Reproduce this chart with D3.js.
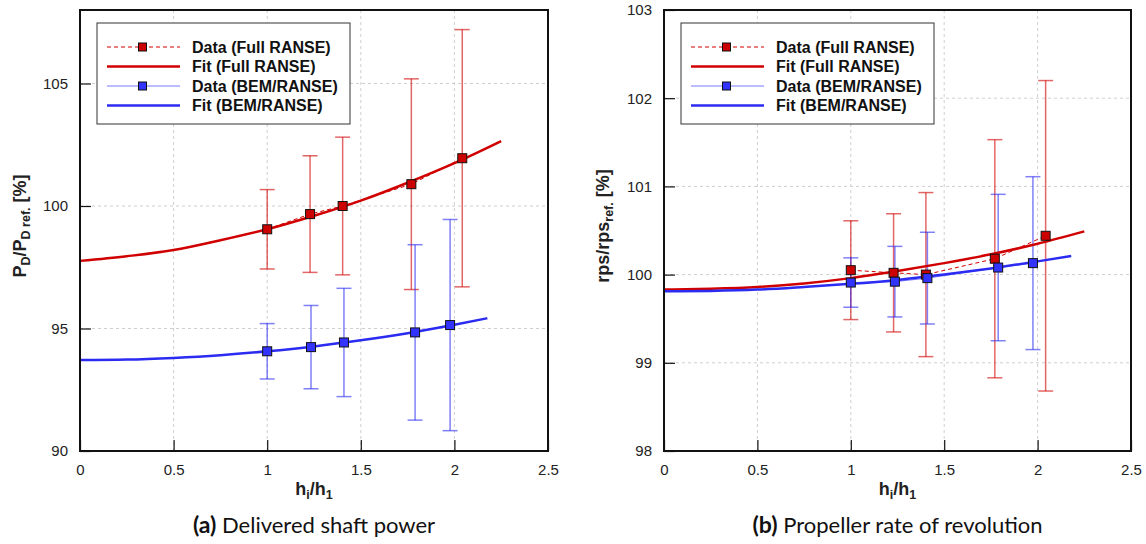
<!DOCTYPE html>
<html>
<head>
<meta charset="utf-8">
<script src="https://cdn.jsdelivr.net/npm/d3@7"></script>
<style>
  body { margin: 0; background: #fff; }
  svg { font-family: "Liberation Sans", Arial, sans-serif; }
</style>
</head>
<body>
<script>
  // (a) delivered shaft power, P_D / P_D ref. [%]
  const powerFullX   = [1.0, 1.229, 1.403, 1.770, 2.042];
  const powerFullY   = [99.05, 99.67, 100.0, 100.89, 101.95];
  const powerFullErr = [1.62, 2.38, 2.81, 4.30, 5.25];
  const powerBemX    = [1.0, 1.234, 1.410, 1.790, 1.977];
  const powerBemY    = [94.07, 94.24, 94.43, 94.84, 95.14];
  const powerBemErr  = [1.13, 1.70, 2.21, 3.58, 4.31];
  const powerFitFullX = [0, 0.25, 0.5, 0.75, 1.0, 1.25, 1.5, 1.75, 2.0, 2.25];
  const powerFitFullY = [97.76, 97.95, 98.2, 98.6, 99.05, 99.6, 100.22, 100.95, 101.75, 102.65];
  const powerFitBemX  = [0, 0.25, 0.5, 0.75, 1.0, 1.25, 1.5, 1.75, 2.0, 2.176];
  const powerFitBemY  = [93.71, 93.73, 93.8, 93.91, 94.07, 94.27, 94.52, 94.81, 95.15, 95.42];

  // (b) propeller rate of revolution, rps / rps ref. [%]
  const rpsFullX   = [1.0, 1.229, 1.402, 1.771, 2.043];
  const rpsFullY   = [100.05, 100.02, 100.0, 100.18, 100.44];
  const rpsFullErr = [0.56, 0.67, 0.93, 1.35, 1.76];
  const rpsBemX    = [1.0, 1.236, 1.410, 1.789, 1.975];
  const rpsBemY    = [99.91, 99.92, 99.96, 100.08, 100.13];
  const rpsBemErr  = [0.28, 0.40, 0.52, 0.83, 0.98];
  const rpsFitFullX = [0, 0.25, 0.5, 0.75, 1.0, 1.25, 1.5, 1.75, 2.0, 2.25];
  const rpsFitFullY = [99.83, 99.84, 99.86, 99.9, 99.96, 100.04, 100.13, 100.23, 100.35, 100.49];
  const rpsFitBemX  = [0, 0.25, 0.5, 0.75, 1.0, 1.25, 1.5, 1.75, 2.0, 2.18];
  const rpsFitBemY  = [99.81, 99.815, 99.83, 99.86, 99.895, 99.94, 100.0, 100.07, 100.15, 100.21];

  const xMajor = [0, 0.5, 1, 1.5, 2, 2.5];
  const xMinor = d3.range(0, 2.51, 0.1);
  const powerMajor = [90, 95, 100, 105];
  const powerMinor = d3.range(90, 108.1, 1);
  const rpsMajor = [98, 99, 100, 101, 102, 103];
  const rpsMinor = d3.range(98, 103.01, 0.2);

  const legendLabels = ["Data (Full RANSE)", "Fit (Full RANSE)", "Data (BEM/RANSE)", "Fit (BEM/RANSE)"];

  const red = "#d10000";
  const blue = "#2b2bf2";
  const sansFont = "'Liberation Sans', Arial, sans-serif";

  const w = 1146;
  const h = 544;
  const plotTop = 10;
  const plotBottom = 451;

  const svg = d3.select("body")
                .append("svg")
                .attr("width", w)
                .attr("height", h)
                .style("font-family", sansFont);

  const pts = (xs, ys, es) => xs.map((v, i) => ({x: v, y: ys[i], e: es ? es[i] : 0}));

  function drawPanel(p) {
    const g = svg.append("g");
    const xScale = d3.scaleLinear().domain([0, 2.5]).range([p.left, p.right]);
    const yScale = d3.scaleLinear().domain(p.yDomain).range([plotBottom, plotTop]);

    // dashed grid on the major ticks
    g.selectAll(".gx")
     .data(xMajor.slice(1, -1))
     .enter()
     .append("line")
     .attr("x1", (d) => xScale(d)).attr("x2", (d) => xScale(d))
     .attr("y1", plotTop).attr("y2", plotBottom)
     .attr("stroke", "#cfcfcf").attr("stroke-dasharray", "3,3");
    g.selectAll(".gy")
     .data(p.yMajor.filter((d) => d > p.yDomain[0] && d < p.yDomain[1]))
     .enter()
     .append("line")
     .attr("x1", p.left).attr("x2", p.right)
     .attr("y1", (d) => yScale(d)).attr("y2", (d) => yScale(d))
     .attr("stroke", "#cfcfcf").attr("stroke-dasharray", "3,3");

    // axes, ticks pointing inward
    const ax = g.append("g").attr("transform", "translate(0," + plotBottom + ")");
    ax.call(d3.axisBottom(xScale).tickValues(xMinor).tickSize(-6).tickFormat(""));
    ax.call(d3.axisBottom(xScale).tickValues(xMajor).tickSize(-11).tickPadding(13).tickFormat(d3.format("")));
    const ay = g.append("g").attr("transform", "translate(" + p.left + ",0)");
    ay.call(d3.axisLeft(yScale).tickValues(p.yMinor).tickSize(-6).tickFormat(""));
    ay.call(d3.axisLeft(yScale).tickValues(p.yMajor).tickSize(-11).tickPadding(12).tickFormat(d3.format("")));
    g.selectAll(".domain").remove();
    g.selectAll("g").attr("font-family", sansFont);
    g.selectAll(".tick line").attr("stroke", "#111").attr("stroke-width", 1.2);
    g.selectAll(".tick text").attr("font-size", 15).attr("fill", "#222");

    // error bars
    const errGroup = (data, color) => {
      const eb = g.append("g").attr("stroke", color).attr("stroke-opacity", 0.6).attr("stroke-width", 1.5);
      data.forEach((d) => {
        const cx = xScale(d.x);
        eb.append("line").attr("x1", cx).attr("x2", cx)
          .attr("y1", yScale(d.y - d.e)).attr("y2", yScale(d.y + d.e));
        [d.y - d.e, d.y + d.e].forEach((v) => {
          eb.append("line").attr("x1", cx - 7.5).attr("x2", cx + 7.5)
            .attr("y1", yScale(v)).attr("y2", yScale(v));
        });
      });
    };
    errGroup(p.full, red);
    errGroup(p.bem, blue);

    const line = d3.line().x((d) => xScale(d.x)).y((d) => yScale(d.y));
    const curve = d3.line().curve(d3.curveMonotoneX).x((d) => xScale(d.x)).y((d) => yScale(d.y));

    g.append("path").attr("d", line(p.full)).attr("fill", "none")
     .attr("stroke", red).attr("stroke-width", 1).attr("stroke-dasharray", "4,3");
    g.append("path").attr("d", line(p.bem)).attr("fill", "none")
     .attr("stroke", "#7878ff").attr("stroke-width", 1);

    g.append("path").attr("d", curve(p.fitFull)).attr("fill", "none")
     .attr("stroke", red).attr("stroke-width", 2.5);
    g.append("path").attr("d", curve(p.fitBem)).attr("fill", "none")
     .attr("stroke", blue).attr("stroke-width", 2.5);

    const marks = (data, fill) => {
      g.selectAll(null)
       .data(data)
       .enter()
       .append("rect")
       .attr("x", (d) => xScale(d.x) - 4.5)
       .attr("y", (d) => yScale(d.y) - 4.5)
       .attr("width", 9).attr("height", 9)
       .attr("fill", fill).attr("stroke", "#111").attr("stroke-width", 1);
    };
    marks(p.full, "#cc0000");
    marks(p.bem, "#3333ff");

    // frame
    g.append("rect")
     .attr("x", p.left).attr("y", plotTop)
     .attr("width", p.right - p.left).attr("height", plotBottom - plotTop)
     .attr("fill", "none").attr("stroke", "#111").attr("stroke-width", 2);

    // legend
    const lx = p.left + 17;
    const ly = plotTop + 13;
    const lg = g.append("g");
    lg.append("rect").attr("x", lx).attr("y", ly).attr("width", 253).attr("height", 101)
      .attr("fill", "#fff").attr("stroke", "#333").attr("stroke-width", 1);
    const rowY = [24, 43.5, 63, 82.5];
    const styles = [
      {stroke: red, width: 1, dash: "4,3", fill: "#cc0000"},
      {stroke: red, width: 2.5, dash: null, fill: null},
      {stroke: "#7878ff", width: 1, dash: null, fill: "#3333ff"},
      {stroke: blue, width: 2.5, dash: null, fill: null}
    ];
    legendLabels.forEach((label, i) => {
      const yy = ly + rowY[i];
      const s = styles[i];
      lg.append("line").attr("x1", lx + 10).attr("x2", lx + 83).attr("y1", yy).attr("y2", yy)
        .attr("stroke", s.stroke).attr("stroke-width", s.width)
        .attr("stroke-dasharray", s.dash);
      if (s.fill) {
        lg.append("rect").attr("x", lx + 41.5).attr("y", yy - 4).attr("width", 8).attr("height", 8)
          .attr("fill", s.fill).attr("stroke", "#111");
      }
      lg.append("text").attr("x", lx + 95).attr("y", yy + 5.5)
        .attr("font-size", 16).attr("font-weight", "bold").attr("fill", "#111")
        .text(label);
    });

    // axis titles
    const cx = (p.left + p.right) / 2;
    const xt = g.append("text").attr("x", cx).attr("y", 495)
      .attr("text-anchor", "middle").attr("font-size", 18).attr("font-weight", "bold").attr("fill", "#222");
    xt.append("tspan").text("h");
    xt.append("tspan").text("i").attr("font-size", 12.5).attr("dy", 4);
    xt.append("tspan").text("/h").attr("dy", -4);
    xt.append("tspan").text("1").attr("font-size", 12.5).attr("dy", 4);

    const yt = g.append("text")
      .attr("transform", "translate(" + p.titleX + "," + p.titleY + ") rotate(-90)")
      .attr("text-anchor", "middle").attr("font-size", 18).attr("font-weight", "bold").attr("fill", "#222");
    p.yTitle.forEach((part) => {
      const t = yt.append("tspan").text(part.t);
      if (part.sub) t.attr("font-size", 12.5).attr("dy", 4);
      if (part.back) t.attr("dy", -4);
    });

    // caption
    const cap = g.append("text").attr("x", cx).attr("y", 533).attr("text-anchor", "middle")
      .attr("font-family", "Lato, 'Open Sans', sans-serif").attr("font-size", 22).attr("fill", "#111");
    cap.append("tspan").text(p.capTag).attr("font-weight", "bold").attr("font-size", 23);
    cap.append("tspan").text(" " + p.capText);
  }

  drawPanel({
    left: 80, right: 548, yDomain: [90, 108],
    yMajor: powerMajor, yMinor: powerMinor,
    full: pts(powerFullX, powerFullY, powerFullErr),
    bem: pts(powerBemX, powerBemY, powerBemErr),
    fitFull: pts(powerFitFullX, powerFitFullY),
    fitBem: pts(powerFitBemX, powerFitBemY),
    titleX: 26, titleY: 226,
    yTitle: [{t: "P"}, {t: "D", sub: true}, {t: "/P", back: true}, {t: "D ref.", sub: true}, {t: " [%]", back: true}],
    capTag: "(a)", capText: "Delivered shaft power"
  });

  drawPanel({
    left: 664, right: 1131, yDomain: [98, 103],
    yMajor: rpsMajor, yMinor: rpsMinor,
    full: pts(rpsFullX, rpsFullY, rpsFullErr),
    bem: pts(rpsBemX, rpsBemY, rpsBemErr),
    fitFull: pts(rpsFitFullX, rpsFitFullY),
    fitBem: pts(rpsFitBemX, rpsFitBemY),
    titleX: 609, titleY: 226,
    yTitle: [{t: "rps/rps"}, {t: "ref.", sub: true}, {t: " [%]", back: true}],
    capTag: "(b)", capText: "Propeller rate of revolution"
  });
</script>
</body>
</html>
